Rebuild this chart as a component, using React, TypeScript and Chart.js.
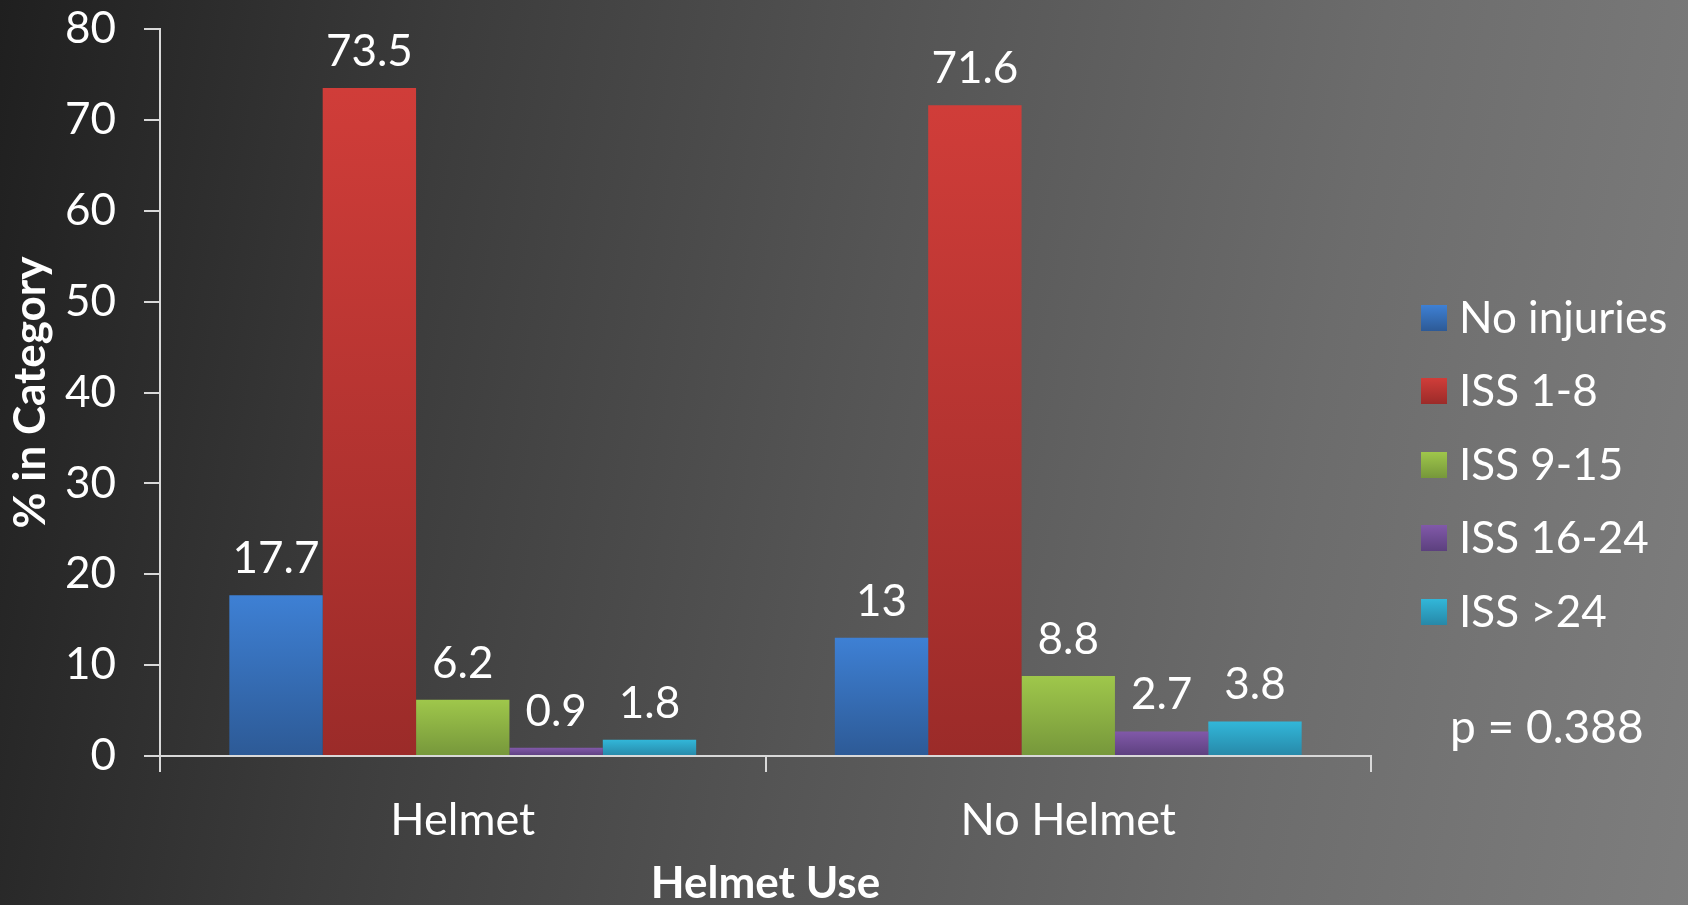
import React, { useEffect, useRef } from "react";
import { Chart, registerables } from "chart.js";

Chart.register(...registerables);

const categories = ["Helmet", "No Helmet"];
const seriesNames = ["No injuries", "ISS 1-8", "ISS 9-15", "ISS 16-24", "ISS >24"];
const noInjuries = [17.7, 13];
const iss1to8 = [73.5, 71.6];
const iss9to15 = [6.2, 8.8];
const iss16to24 = [0.9, 2.7];
const issOver24 = [1.8, 3.8];
const yTicks = [0, 10, 20, 30, 40, 50, 60, 70, 80];
const pValueText = "p = 0.388";

const topColors = ["#3e80d4", "#d03d39", "#9fc74b", "#8159a9", "#32b7d9"];
const bottomColors = ["#2d5a96", "#9b2b29", "#76973b", "#5c407e", "#2788a8"];

const FONT = "Lato, 'Open Sans', sans-serif";

export default function App() {
  const ref = useRef<HTMLCanvasElement | null>(null);

  useEffect(() => {
    document.body.style.margin = "0";
    document.body.style.overflow = "hidden";
    const canvas = ref.current!;
    const seriesValues = [noInjuries, iss1to8, iss9to15, iss16to24, issOver24];

    const gradFor = (i: number) => (ctx: any) => {
      const chart = ctx.chart;
      const area = chart.chartArea;
      const yScale = chart.scales && chart.scales.y;
      if (!area || !yScale || typeof ctx.raw !== "number") return topColors[i];
      const y0 = yScale.getPixelForValue(ctx.raw);
      const y1 = yScale.getPixelForValue(0);
      if (!isFinite(y0) || !isFinite(y1) || y1 - y0 < 1) return topColors[i];
      const g = chart.ctx.createLinearGradient(0, y0, 0, y1);
      g.addColorStop(0, topColors[i]);
      g.addColorStop(1, bottomColors[i]);
      return g;
    };

    const labelsPlugin = {
      id: "valueLabels",
      afterDatasetsDraw(chart: any) {
        const ctx = chart.ctx;
        ctx.save();
        ctx.fillStyle = "#ffffff";
        ctx.font = `44px ${FONT}`;
        ctx.textAlign = "center";
        ctx.textBaseline = "alphabetic";
        chart.data.datasets.forEach((ds: any, di: number) => {
          const meta = chart.getDatasetMeta(di);
          meta.data.forEach((bar: any, i: number) => {
            ctx.fillText(String(ds.data[i]), bar.x, bar.y - 22);
          });
        });
        ctx.restore();
      },
    };

    const legendPlugin = {
      id: "customLegend",
      afterDraw(chart: any) {
        const ctx = chart.ctx;
        ctx.save();
        const x0 = 1421;
        const ys = [318, 391, 465, 538, 612];
        ctx.font = `44px ${FONT}`;
        ctx.textBaseline = "middle";
        ctx.textAlign = "left";
        seriesNames.forEach((name, i) => {
          const y = ys[i];
          const g = ctx.createLinearGradient(0, y - 13, 0, y + 13);
          g.addColorStop(0, topColors[i]);
          g.addColorStop(1, bottomColors[i]);
          ctx.fillStyle = g;
          ctx.fillRect(x0, y - 13, 26, 26);
          ctx.fillStyle = "#ffffff";
          ctx.fillText(name, x0 + 38, y + 1);
        });
        ctx.font = `46px ${FONT}`;
        ctx.fillText(pValueText, 1450, 728);
        ctx.restore();
      },
    };

    const chart = new Chart(canvas, {
      type: "bar",
      data: {
        labels: categories,
        datasets: seriesNames.map((name, i) => ({
          label: name,
          data: seriesValues[i],
          backgroundColor: gradFor(i),
          borderWidth: 0,
          categoryPercentage: 0.771,
          barPercentage: 1.0,
        })),
      },
      options: {
        animation: false,
        responsive: false,
        maintainAspectRatio: false,
        layout: { padding: { left: 0, right: 1688 - 1371, top: 29, bottom: 0 } },
        plugins: {
          legend: { display: false },
          tooltip: { enabled: false },
        },
        scales: {
          x: {
            grid: {
              display: true,
              drawOnChartArea: false,
              drawTicks: true,
              tickLength: 16,
              color: "#d9d9d9",
              lineWidth: 2,
              offset: true,
            },
            border: { display: true, color: "#d9d9d9", width: 2 },
            ticks: {
              color: "#ffffff",
              font: { family: FONT, size: 45 },
              padding: 21,
            },
            title: {
              display: true,
              text: "Helmet Use",
              color: "#ffffff",
              font: { family: FONT, size: 44, weight: "bold" },
              padding: { top: 0, bottom: 20 },
            },
            afterFit: (scale: any) => {
              scale.height = 930 - 756;
              scale.paddingLeft = 0;
              scale.paddingRight = 0;
            },
          },
          y: {
            min: 0,
            max: 80,
            afterBuildTicks: (scale: any) => {
              scale.ticks = yTicks.map((v) => ({ value: v }));
            },
            grid: {
              display: true,
              drawOnChartArea: false,
              drawTicks: true,
              tickLength: 16,
              color: "#d9d9d9",
              lineWidth: 2,
            },
            border: { display: true, color: "#d9d9d9", width: 2 },
            ticks: {
              color: "#ffffff",
              font: { family: FONT, size: 44 },
              padding: 28,
            },
            title: {
              display: true,
              text: "% in Category",
              color: "#ffffff",
              font: { family: FONT, size: 44, weight: "bold" },
              padding: { top: 4, bottom: 0 },
            },
            afterFit: (scale: any) => {
              scale.width = 160;
              scale.paddingTop = 0;
              scale.paddingBottom = 0;
            },
          },
        },
      },
      plugins: [labelsPlugin, legendPlugin],
    });
    return () => chart.destroy();
  }, []);

  return (
    <div
      style={{
        position: "fixed",
        left: 0,
        top: 0,
        width: 1688,
        height: 930,
        background:
          "linear-gradient(100deg, #1f1f1f 0%, #3c3c3c 25%, #555555 50%, #6c6c6c 75%, #7e7e7e 100%)",
      }}
    >
      <canvas ref={ref} width={1688} height={930} style={{ width: 1688, height: 930, display: "block" }} />
    </div>
  );
}
